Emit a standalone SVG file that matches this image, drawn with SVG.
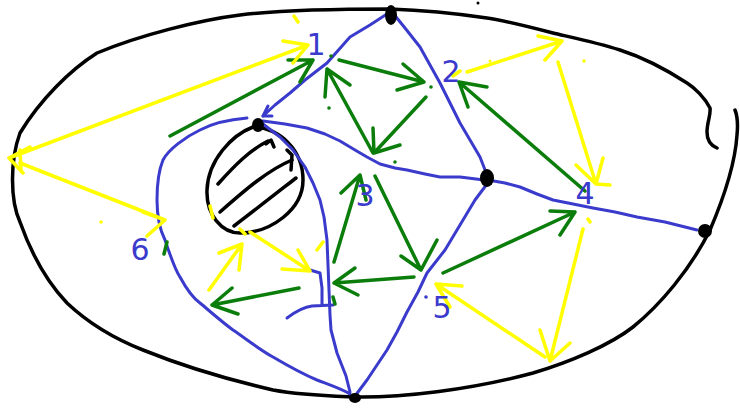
<svg xmlns="http://www.w3.org/2000/svg" width="740" height="409" viewBox="0 0 740 409">
<style>
.k{fill:none;stroke:#000;stroke-width:3.5;stroke-linecap:round;stroke-linejoin:round}
.b{fill:none;stroke:#3a3acc;stroke-width:3;stroke-linecap:round;stroke-linejoin:round}
.g{fill:none;stroke:#0b7d0b;stroke-width:3.5;stroke-linecap:round;stroke-linejoin:round}
.y{fill:none;stroke:#ffff00;stroke-width:3.5;stroke-linecap:round;stroke-linejoin:round}
.dot{fill:#000}
.lbl{font-family:"DejaVu Sans",sans-serif;font-size:30px;fill:#3a3acc}
</style>
<rect width="740" height="409" fill="#fff"/>
<g id="outline">
<path class="k" d="M717,148 C712,146 707,142 707,132 C707,122 711,115 710,108 C705,98 695,88 687,83 C670,72 645,58 620,50 C595,42 565,36 553,33 C530,27 500,20 487,18 C460,14 420,10 390,9 C350,9 280,10 240,15 C200,20 140,35 97,53 C70,70 40,100 20,133 C10,160 10,200 20,222 C30,250 45,280 67,303 C85,320 110,337 143,350 C180,365 230,380 273,390 C300,395 330,396 353,397 C400,398 470,390 533,373 C570,362 610,345 633,327 C660,305 690,270 710,230 C725,195 735,165 737,135 C738,125 737,115 735,110"/>
</g>
<g id="obstacle">
<path class="k" d="M253,127 C232,135 208,160 207,190 C206,215 222,233 240,233 C270,233 303,210 303,180 C303,150 280,128 253,127 Z"/>
<path class="k" d="M218,184 C235,165 250,150 268,141"/>
<path class="k" d="M220,212 C245,190 268,170 292,160"/>
<path class="k" d="M234,226 C255,210 278,192 296,178"/>
<path class="k" d="M266,144 L271,140 L274,147"/>
<path class="k" d="M287,150 L292,155 L291,170"/>
</g>
<g id="edges">
<path class="b" d="M390,12 L370,25 L350,37 L327,63 L305,80 L290,93 L275,105 L263,116"/>
<path class="b" d="M263,116 L268,106 M263,116 L272,116"/>
<path class="b" d="M392,12 L405,28 L420,47 L430,65 L440,83 L450,103 L460,123 L470,140 L480,157 L487,175"/>
<path class="b" d="M263,121 L285,124 L307,128 L325,134 L340,141 L355,150 L367,157 L380,164 L395,168 L407,170 L425,174 L440,177 L460,177 L484,180"/>
<path class="b" d="M488,180 L505,183 L520,187 L537,194 L553,200 L573,204 L593,208 L615,212 L637,217 L665,222 L697,230"/>
<path class="b" d="M487,184 L475,200 L460,225 L445,250 L427,273 L418,292 L407,312 L397,332 L387,350 L377,365 L367,380 L355,396"/>
<path class="b" d="M263,124 L280,137 L293,150 L305,167 L313,183 L320,200 L324,217 L327,240 L328,265 L329,290 L330,315 L331,330 L337,353 L346,376 L350,392"/>
<path class="b" d="M247,118 C235,119 215,122 200,130 C185,137 168,150 163,160 C158,172 157,185 157,200 C157,215 160,230 165,240 C170,255 175,270 180,277 C187,290 193,298 200,303 C212,313 222,322 233,330 C245,338 260,350 273,357 C290,367 305,375 317,380 C330,385 342,389 350,394"/>
<path class="b" d="M310,270 L320,273 L322,288 L322,305 M287,318 C295,312 303,307 312,306 L333,305"/>
</g>
<g id="nodes">
<g id="n-top"><ellipse class="dot" cx="391" cy="15" rx="6" ry="10"/></g>
<g id="n-left"><ellipse class="dot" cx="258" cy="125" rx="6" ry="7"/></g>
<g id="n-mid"><ellipse class="dot" cx="487" cy="178" rx="7" ry="9"/></g>
<g id="n-right"><circle class="dot" cx="705" cy="231" r="7"/></g>
<g id="n-bottom"><ellipse class="dot" cx="355" cy="398" rx="6" ry="5"/></g>
</g>
<g id="green-arrows">
<path class="g" d="M170,136 L313,60 M288,60 L313,60 L300,82"/>
<path class="g" d="M339,60 L424,82 M403,64 L424,82 L397,90"/>
<path class="g" d="M373,153 L327,69 M325,97 L327,69 L350,85"/>
<path class="g" d="M426,97 L374,153 M373,128 L374,153 L400,145"/>
<path class="g" d="M585,191 L459,82 M487,87 L459,82 L468,107"/>
<path class="g" d="M443,273 L575,212 M550,211 L575,212 L560,235"/>
<path class="g" d="M375,176 L421,270 M401,256 L421,270 L437,240"/>
<path class="g" d="M334,262 L360,175 M341,193 L360,175 L366,200"/>
<path class="g" d="M414,277 L334,283 M355,268 L334,283 L358,295"/>
<path class="g" d="M299,288 L212,305 M232,288 L212,305 L238,314"/>
<path class="g" d="M167,242 L164,254 M333,297 L335,304"/>
<circle cx="331" cy="56" r="1.8" fill="#0b7d0b"/>
<circle cx="329" cy="108" r="1.8" fill="#0b7d0b"/>
<circle cx="431" cy="87" r="1.8" fill="#0b7d0b"/>
<circle cx="395" cy="162" r="1.8" fill="#0b7d0b"/>
</g>
<g id="yellow-arrows">
<path class="y" d="M9,158 L308,45 M283,41 L308,45 L293,63 M30,147 L9,158 L23,173 M20,150 L21,170"/>
<path class="y" d="M20,163 L165,220 M143,212 L165,220 L147,236"/>
<path class="y" d="M467,72 L562,41 M538,36 L562,41 L545,60 M453,76 L460,71"/>
<path class="y" d="M558,62 L596,184 M576,165 L596,184 L603,158 M596,184 L610,185"/>
<path class="y" d="M583,229 L550,361 M540,330 L550,361 L570,343"/>
<path class="y" d="M545,357 L436,284 M462,286 L436,284 L450,307"/>
<path class="y" d="M209,290 L242,244 M219,253 L242,244 L239,270"/>
<path class="y" d="M250,232 L310,271 M282,269 L310,271 L298,250"/>
<path class="y" d="M210,206 L213,218 M317,250 L323,242 M294,16 L298,22 M588,219 L590,222 M240,229 L245,234"/>
<circle cx="101" cy="222" r="1.8" fill="#ff0"/>
<circle cx="584" cy="61" r="1.8" fill="#ff0"/>
<circle cx="490" cy="61" r="1.5" fill="#ff0"/>
</g>
<circle cx="478" cy="3" r="1.5" fill="#000"/>
<g id="labels">
<text class="lbl" x="316" y="55" text-anchor="middle">1</text>
<text class="lbl" x="451" y="82" text-anchor="middle">2</text>
<text class="lbl" x="365" y="206" text-anchor="middle">3</text>
<text class="lbl" x="585" y="204" text-anchor="middle">4</text>
<text class="lbl" x="442" y="318" text-anchor="middle">5</text>
<circle cx="426" cy="297" r="1.8" fill="#3a3acc"/>
<text class="lbl" x="140" y="260" text-anchor="middle">6</text>
</g>
</svg>
